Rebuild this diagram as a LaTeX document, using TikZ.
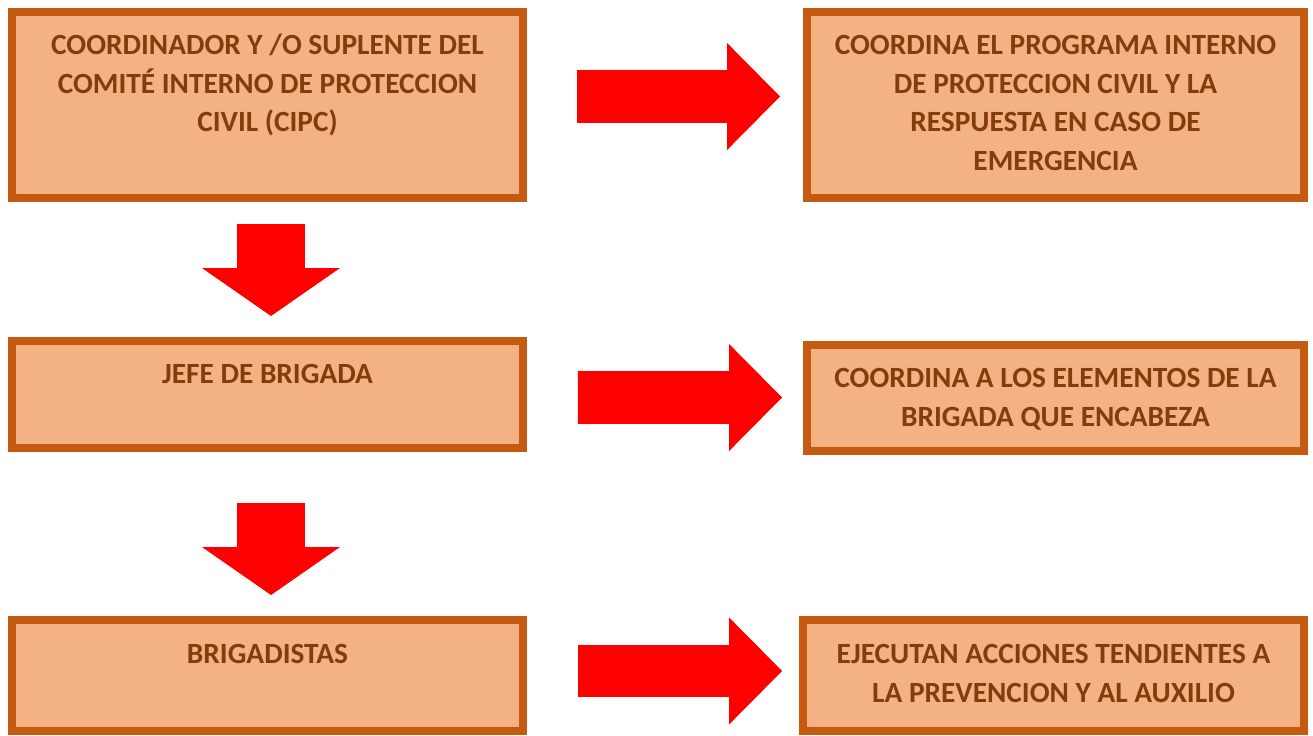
\documentclass[tikz,border=0pt]{standalone}
\usepackage{fontspec}
\setmainfont{Carlito}
\usetikzlibrary{arrows.meta,positioning}
\definecolor{boxfill}{HTML}{F4B183}
\definecolor{boxline}{HTML}{C55A11}
\definecolor{boxtext}{HTML}{843C0C}
\definecolor{arrred}{HTML}{FF0000}

\begin{document}
\begin{tikzpicture}[
  x=0.02cm, y=-0.02cm,
  box/.style={rectangle, draw=boxline, fill=boxfill, line width=0.16cm, inner sep=0pt},
  lab/.style={inner sep=0pt, align=center, text=boxtext,
    font=\fontsize{16.7}{21.9}\selectfont\bfseries},
  rarr/.style={draw=arrred, line width=1.06cm,
    -{Triangle[length=1.06cm, width=2.14cm, line width=0pt]}, shorten <=1.02cm},
  darr/.style={draw=arrred, line width=1.36cm,
    -{Triangle[length=0.96cm, width=2.76cm, line width=0pt]}, shorten >=0.42cm}
]
\useasboundingbox (0,0) rectangle (1313,736);

% Left column: roles
\node[box, minimum width=10.22cm, minimum height=3.72cm] (cipc) at (267.5,105) {};
\node[box, minimum width=10.22cm, minimum height=2.14cm] (jefe) at (267.5,394.5) {};
\node[box, minimum width=10.22cm, minimum height=2.22cm] (brig) at (267.5,675.5) {};

% Right column: duties
\node[box, minimum width=9.94cm, minimum height=3.72cm] (cipcfun) at (1055.5,105) {};
\node[box, minimum width=9.94cm, minimum height=2.12cm] (jefefun) at (1055.5,398) {};
\node[box, minimum width=10.02cm, minimum height=2.22cm] (brigfun) at (1053.5,675.5) {};

% Texts, hung from the top of each box
\node[lab, below=0.52cm of cipc.north] (cipctxt)
{COORDINADOR Y /O SUPLENTE DEL\\COMITÉ INTERNO DE PROTECCION\\CIVIL (CIPC)};
\node[lab, below=0.54cm of jefe.north] (jefetxt) {JEFE DE BRIGADA};
\node[lab, below=0.56cm of brig.north] (brigtxt) {BRIGADISTAS};
\node[lab, below=0.54cm of cipcfun.north] (cipcfuntxt)
{COORDINA EL PROGRAMA INTERNO\\DE PROTECCION CIVIL Y LA\\RESPUESTA EN CASO DE\\EMERGENCIA};
\node[lab, below=0.54cm of jefefun.north] (jefefuntxt)
{COORDINA A LOS ELEMENTOS DE LA\\BRIGADA QUE ENCABEZA};
\node[lab, below=0.56cm of brigfun.north] (brigfuntxt)
{EJECUTAN ACCIONES TENDIENTES A\\LA PREVENCION Y AL AUXILIO};

% Block arrows to the duties
\draw[rarr, shorten <=1.0cm, shorten >=0.46cm]
  ([yshift=0.17cm]cipc.east) -- ([yshift=0.17cm]cipcfun.west);
\draw[rarr, shorten >=0.42cm]
  ([yshift=-0.06cm]jefe.east) -- ([yshift=0.01cm]jefefun.west);
\draw[rarr, shorten >=0.34cm]
  ([yshift=0.09cm]brig.east) -- ([yshift=0.09cm]brigfun.west);

% Block arrows down the chain
\draw[darr, shorten <=0.44cm]
  ([xshift=0.07cm]cipc.south) -- ([xshift=0.07cm]jefe.north);
\draw[darr, shorten <=1.02cm]
  ([xshift=0.07cm]jefe.south) -- ([xshift=0.07cm]brig.north);

\end{tikzpicture}
\end{document}
